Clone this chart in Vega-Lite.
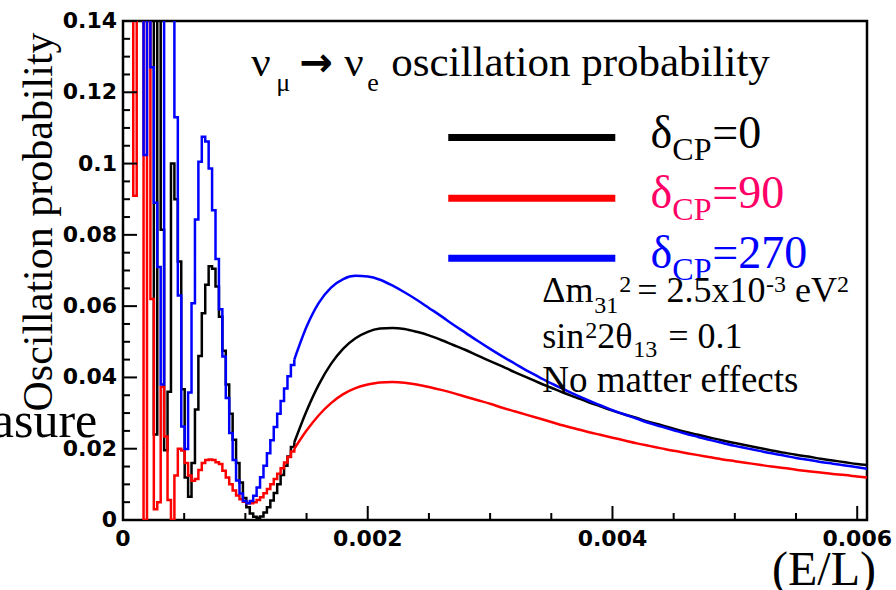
{
  "$schema": "https://vega.github.io/schema/vega-lite/v6.json",
  "width": 744,
  "height": 499,
  "autosize": {"type": "none"},
  "padding": {"left": 123, "top": 21, "right": 29, "bottom": 70},
  "background": "white",
  "config": {
    "view": {"stroke": "black", "strokeWidth": 2.5}
  },
  "data": {"values": [{}]},
  "datasets": {
    "xmaj": [{"t": 0}, {"t": 0.002}, {"t": 0.004}, {"t": 0.006}],
    "xmin": [{"t": 0.0005}, {"t": 0.001}, {"t": 0.0015}, {"t": 0.0025}, {"t": 0.003}, {"t": 0.0035}, {"t": 0.0045}, {"t": 0.005}, {"t": 0.0055}],
    "ymaj": [{"t": 0}, {"t": 0.02}, {"t": 0.04}, {"t": 0.06}, {"t": 0.08}, {"t": 0.1}, {"t": 0.12}, {"t": 0.14}],
    "ymin": [{"t": 0.005}, {"t": 0.01}, {"t": 0.015}, {"t": 0.025}, {"t": 0.03}, {"t": 0.035}, {"t": 0.045}, {"t": 0.05}, {"t": 0.055}, {"t": 0.065}, {"t": 0.07}, {"t": 0.075}, {"t": 0.085}, {"t": 0.09}, {"t": 0.095}, {"t": 0.105}, {"t": 0.11}, {"t": 0.115}, {"t": 0.125}, {"t": 0.13}, {"t": 0.135}],
    "curve": [
      {"x": 0, "b": 0.2, "r": 0.2, "u": 0.2},
      {"x": 0.000028, "b": 0.2, "r": 0.2, "u": 0.2},
      {"x": 0.000056, "b": 0.2, "r": 0.2, "u": 0.2},
      {"x": 0.000084, "b": 0.2, "r": 0.091, "u": 0.2},
      {"x": 0.000112, "b": 0.2, "r": 0.2, "u": 0.2},
      {"x": 0.00014, "b": 0.2, "r": 0.2, "u": 0.2},
      {"x": 0.000168, "b": 0.2, "r": 0, "u": 0.1024},
      {"x": 0.000196, "b": 0.2, "r": 0.2, "u": 0.2},
      {"x": 0.000224, "b": 0.2, "r": 0.062, "u": 0.127},
      {"x": 0.000252, "b": 0.024, "r": 0.003, "u": 0.089},
      {"x": 0.00028, "b": 0.2, "r": 0.005, "u": 0.071},
      {"x": 0.000308, "b": 0.0814, "r": 0.0374, "u": 0.038},
      {"x": 0.000336, "b": 0.0196, "r": 0.0234, "u": 0.2},
      {"x": 0.000364, "b": 0.036, "r": 0.0056, "u": 0.2},
      {"x": 0.000392, "b": 0.1, "r": 0, "u": 0.2},
      {"x": 0.00042, "b": 0.09, "r": 0.0125, "u": 0.113},
      {"x": 0.000448, "b": 0.0725, "r": 0.02, "u": 0.063},
      {"x": 0.000476, "b": 0.0367, "r": 0.0195, "u": 0.0262},
      {"x": 0.000504, "b": 0.0119, "r": 0.016, "u": 0.0199},
      {"x": 0.000532, "b": 0.0065, "r": 0.0125, "u": 0.0358},
      {"x": 0.00056, "b": 0.016, "r": 0.011, "u": 0.0608},
      {"x": 0.000588, "b": 0.031, "r": 0.0115, "u": 0.0843},
      {"x": 0.000616, "b": 0.046, "r": 0.014, "u": 0.1005},
      {"x": 0.000644, "b": 0.058, "r": 0.016, "u": 0.1075},
      {"x": 0.000672, "b": 0.066, "r": 0.0168, "u": 0.1062},
      {"x": 0.0007, "b": 0.0712, "r": 0.017, "u": 0.0986},
      {"x": 0.000728, "b": 0.0705, "r": 0.0168, "u": 0.0869},
      {"x": 0.000756, "b": 0.0655, "r": 0.0162, "u": 0.0732},
      {"x": 0.000784, "b": 0.057, "r": 0.0157, "u": 0.0591},
      {"x": 0.000812, "b": 0.0475, "r": 0.0138, "u": 0.0459},
      {"x": 0.00084, "b": 0.038, "r": 0.0119, "u": 0.0342},
      {"x": 0.000868, "b": 0.0298, "r": 0.01, "u": 0.0244},
      {"x": 0.000896, "b": 0.0225, "r": 0.0083, "u": 0.0168},
      {"x": 0.000924, "b": 0.016, "r": 0.0069, "u": 0.0111},
      {"x": 0.000952, "b": 0.0105, "r": 0.0058, "u": 0.0074},
      {"x": 0.00098, "b": 0.0062, "r": 0.0051, "u": 0.0053},
      {"x": 0.001008, "b": 0.0036, "r": 0.0047, "u": 0.0047},
      {"x": 0.001036, "b": 0.0018, "r": 0.0047, "u": 0.0053},
      {"x": 0.001064, "b": 0.0009, "r": 0.005, "u": 0.0068},
      {"x": 0.001092, "b": 0.0006, "r": 0.0056, "u": 0.0091},
      {"x": 0.00112, "b": 0.001, "r": 0.0064, "u": 0.012},
      {"x": 0.001148, "b": 0.0021, "r": 0.0075, "u": 0.0152},
      {"x": 0.001176, "b": 0.0036, "r": 0.0087, "u": 0.0187},
      {"x": 0.001204, "b": 0.0055, "r": 0.01, "u": 0.0224},
      {"x": 0.001232, "b": 0.0076, "r": 0.0115, "u": 0.0261},
      {"x": 0.00126, "b": 0.01, "r": 0.013, "u": 0.0298},
      {"x": 0.001288, "b": 0.0126, "r": 0.0145, "u": 0.0334},
      {"x": 0.001316, "b": 0.0152, "r": 0.0161, "u": 0.0369},
      {"x": 0.001344, "b": 0.0178, "r": 0.0177, "u": 0.0403},
      {"x": 0.001372, "b": 0.0205, "r": 0.0192, "u": 0.0435},
      {"x": 0.0014, "b": 0.0218, "r": 0.02, "u": 0.045},
      {"x": 0.0015, "b": 0.0306, "r": 0.0251, "u": 0.0542},
      {"x": 0.0016, "b": 0.038, "r": 0.0294, "u": 0.0609},
      {"x": 0.0017, "b": 0.0438, "r": 0.0328, "u": 0.0652},
      {"x": 0.0018, "b": 0.0481, "r": 0.0353, "u": 0.0676},
      {"x": 0.0019, "b": 0.051, "r": 0.037, "u": 0.0685},
      {"x": 0.002, "b": 0.0528, "r": 0.038, "u": 0.0683},
      {"x": 0.0021, "b": 0.0537, "r": 0.0386, "u": 0.0674},
      {"x": 0.0022, "b": 0.0539, "r": 0.0387, "u": 0.0658},
      {"x": 0.0023, "b": 0.0536, "r": 0.0385, "u": 0.0639},
      {"x": 0.0024, "b": 0.0528, "r": 0.038, "u": 0.0618},
      {"x": 0.0025, "b": 0.0518, "r": 0.0373, "u": 0.0595},
      {"x": 0.0026, "b": 0.0505, "r": 0.0365, "u": 0.0572},
      {"x": 0.0027, "b": 0.0491, "r": 0.0356, "u": 0.0548},
      {"x": 0.0028, "b": 0.0477, "r": 0.0346, "u": 0.0525},
      {"x": 0.0029, "b": 0.0461, "r": 0.0336, "u": 0.0502},
      {"x": 0.003, "b": 0.0446, "r": 0.0326, "u": 0.048},
      {"x": 0.0031, "b": 0.0431, "r": 0.0315, "u": 0.0459},
      {"x": 0.0032, "b": 0.0415, "r": 0.0305, "u": 0.0439},
      {"x": 0.0033, "b": 0.04, "r": 0.0295, "u": 0.0419},
      {"x": 0.0034, "b": 0.0385, "r": 0.0285, "u": 0.0401},
      {"x": 0.0035, "b": 0.0371, "r": 0.0275, "u": 0.0383},
      {"x": 0.0036, "b": 0.0357, "r": 0.0265, "u": 0.0367},
      {"x": 0.0037, "b": 0.0344, "r": 0.0256, "u": 0.0351},
      {"x": 0.0038, "b": 0.0331, "r": 0.0247, "u": 0.0336},
      {"x": 0.0039, "b": 0.0319, "r": 0.0239, "u": 0.0322},
      {"x": 0.004, "b": 0.0307, "r": 0.0231, "u": 0.0308},
      {"x": 0.0041, "b": 0.0296, "r": 0.0223, "u": 0.0296},
      {"x": 0.0042, "b": 0.0286, "r": 0.0215, "u": 0.0284},
      {"x": 0.0043, "b": 0.0275, "r": 0.0208, "u": 0.0272},
      {"x": 0.0044, "b": 0.0266, "r": 0.0201, "u": 0.0262},
      {"x": 0.0045, "b": 0.0256, "r": 0.0194, "u": 0.0252},
      {"x": 0.0046, "b": 0.0247, "r": 0.0188, "u": 0.0242},
      {"x": 0.0047, "b": 0.0239, "r": 0.0182, "u": 0.0233},
      {"x": 0.0048, "b": 0.0231, "r": 0.0176, "u": 0.0224},
      {"x": 0.0049, "b": 0.0223, "r": 0.017, "u": 0.0216},
      {"x": 0.005, "b": 0.0216, "r": 0.0165, "u": 0.0208},
      {"x": 0.0051, "b": 0.0209, "r": 0.016, "u": 0.0201},
      {"x": 0.0052, "b": 0.0202, "r": 0.0155, "u": 0.0194},
      {"x": 0.0053, "b": 0.0195, "r": 0.015, "u": 0.0187},
      {"x": 0.0054, "b": 0.0189, "r": 0.0146, "u": 0.0181},
      {"x": 0.0055, "b": 0.0183, "r": 0.0141, "u": 0.0174},
      {"x": 0.0056, "b": 0.0178, "r": 0.0137, "u": 0.0169},
      {"x": 0.0057, "b": 0.0172, "r": 0.0133, "u": 0.0163},
      {"x": 0.0058, "b": 0.0167, "r": 0.0129, "u": 0.0158},
      {"x": 0.0059, "b": 0.0162, "r": 0.0126, "u": 0.0153},
      {"x": 0.006, "b": 0.0157, "r": 0.0122, "u": 0.0148},
      {"x": 0.00608, "b": 0.0154, "r": 0.0119, "u": 0.0144}
    ]
  },
  "layer": [
    {
      "data": {"name": "curve"},
      "transform": [{"filter": "datum.x <= 0.0014"}, {"fold": ["b", "r", "u"], "as": ["series", "p"]}],
      "mark": {"type": "line", "interpolate": "step-after", "clip": true, "strokeWidth": 2.5},
      "encoding": {
        "x": {"field": "x", "type": "quantitative", "scale": {"domain": [0, 0.00608], "nice": false, "zero": false}, "axis": null},
        "y": {"field": "p", "type": "quantitative", "scale": {"domain": [0, 0.14], "nice": false, "zero": false}, "axis": null},
        "color": {"field": "series", "type": "nominal",
                  "scale": {"domain": ["b", "r", "u"], "range": ["#000000", "#ff0000", "#0000ff"]}, "legend": null}
      }
    },
    {
      "data": {"name": "curve"},
      "transform": [{"filter": "datum.x >= 0.0014"}, {"fold": ["b", "r", "u"], "as": ["series", "p"]}],
      "mark": {"type": "line", "interpolate": "monotone", "clip": true, "strokeWidth": 2.5},
      "encoding": {
        "x": {"field": "x", "type": "quantitative", "axis": null},
        "y": {"field": "p", "type": "quantitative", "axis": null},
        "color": {"field": "series", "type": "nominal", "legend": null}
      }
    },
    {"data": {"name": "xmaj"}, "mark": {"type": "rule", "color": "black", "strokeWidth": 2},
     "encoding": {"x": {"field": "t", "type": "quantitative", "axis": null}, "y": {"datum": 0, "type": "quantitative", "axis": null}, "y2": {"datum": 0.00393}}},
    {"data": {"name": "xmin"}, "mark": {"type": "rule", "color": "black", "strokeWidth": 2},
     "encoding": {"x": {"field": "t", "type": "quantitative", "axis": null}, "y": {"datum": 0, "type": "quantitative", "axis": null}, "y2": {"datum": 0.00197}}},
    {"data": {"name": "ymaj"}, "mark": {"type": "rule", "color": "black", "strokeWidth": 2},
     "encoding": {"y": {"field": "t", "type": "quantitative", "axis": null}, "x": {"datum": 0, "type": "quantitative", "axis": null}, "x2": {"datum": 0.0001144}}},
    {"data": {"name": "ymin"}, "mark": {"type": "rule", "color": "black", "strokeWidth": 2},
     "encoding": {"y": {"field": "t", "type": "quantitative", "axis": null}, "x": {"datum": 0, "type": "quantitative", "axis": null}, "x2": {"datum": 0.0000572}}},
    {"data": {"name": "xmaj"}, "mark": {"type": "text", "font": "DejaVu Sans", "fontWeight": "bold", "fontSize": 22, "align": "center", "baseline": "top", "dy": 9, "color": "black"},
     "encoding": {"x": {"field": "t", "type": "quantitative", "axis": null}, "y": {"datum": 0, "type": "quantitative", "axis": null}, "text": {"field": "t", "type": "quantitative", "format": "~g"}}},
    {"data": {"name": "ymaj"}, "mark": {"type": "text", "font": "DejaVu Sans", "fontWeight": "bold", "fontSize": 22, "align": "right", "baseline": "middle", "dx": -6, "color": "black"},
     "encoding": {"y": {"field": "t", "type": "quantitative", "axis": null}, "x": {"datum": 0, "type": "quantitative", "axis": null}, "text": {"field": "t", "type": "quantitative", "format": "~g"}}},
    {"mark": {"type": "text", "text": "Oscillation probability", "font": "Liberation Serif", "fontSize": 42, "angle": 270, "align": "center", "baseline": "alphabetic", "color": "black"},
     "encoding": {"x": {"datum": -0.00058, "type": "quantitative", "axis": null}, "y": {"datum": 0.08361, "type": "quantitative", "axis": null}}},
    {"mark": {"type": "text", "text": "(E/L)", "font": "Liberation Serif", "fontSize": 48, "align": "right", "baseline": "alphabetic", "color": "black"},
     "encoding": {"x": {"datum": 0.0061535, "type": "quantitative", "axis": null}, "y": {"datum": -0.018236, "type": "quantitative", "axis": null}}},
    {"mark": {"type": "rule", "color": "#000000", "strokeWidth": 7},
     "encoding": {"x": {"datum": 0.002658, "type": "quantitative", "axis": null}, "x2": {"datum": 0.004023}, "y": {"datum": 0.10732, "type": "quantitative", "axis": null}}},
    {"mark": {"type": "rule", "color": "#ff0000", "strokeWidth": 7},
     "encoding": {"x": {"datum": 0.002658, "type": "quantitative", "axis": null}, "x2": {"datum": 0.004023}, "y": {"datum": 0.09026, "type": "quantitative", "axis": null}}},
    {"mark": {"type": "rule", "color": "#0000ff", "strokeWidth": 7},
     "encoding": {"x": {"datum": 0.002658, "type": "quantitative", "axis": null}, "x2": {"datum": 0.004023}, "y": {"datum": 0.07342, "type": "quantitative", "axis": null}}},
    {"mark": {"type": "text", "text": "ν", "font": "Liberation Serif", "fontSize": 43, "align": "left", "baseline": "alphabetic", "color": "black"},
     "encoding": {"x": {"datum": 0.0010485, "type": "quantitative", "axis": null}, "y": {"datum": 0.12457, "type": "quantitative", "axis": null}}},
    {"mark": {"type": "text", "text": "μ", "font": "Liberation Serif", "fontSize": 26, "align": "left", "baseline": "alphabetic", "color": "black"},
     "encoding": {"x": {"datum": 0.0012528, "type": "quantitative", "axis": null}, "y": {"datum": 0.12036, "type": "quantitative", "axis": null}}},
    {"mark": {"type": "text", "text": "→", "font": "DejaVu Sans", "fontWeight": "bold", "fontSize": 40, "align": "left", "baseline": "middle", "color": "black"},
     "encoding": {"x": {"datum": 0.0014414, "type": "quantitative", "axis": null}, "y": {"datum": 0.12794, "type": "quantitative", "axis": null}}},
    {"mark": {"type": "text", "text": "ν", "font": "Liberation Serif", "fontSize": 43, "align": "left", "baseline": "alphabetic", "color": "black"},
     "encoding": {"x": {"datum": 0.0018089, "type": "quantitative", "axis": null}, "y": {"datum": 0.12457, "type": "quantitative", "axis": null}}},
    {"mark": {"type": "text", "text": "e", "font": "Liberation Serif", "fontSize": 26, "align": "left", "baseline": "alphabetic", "color": "black"},
     "encoding": {"x": {"datum": 0.0019969, "type": "quantitative", "axis": null}, "y": {"datum": 0.12036, "type": "quantitative", "axis": null}}},
    {"mark": {"type": "text", "text": "oscillation probability", "font": "Liberation Serif", "fontSize": 43, "align": "left", "baseline": "alphabetic", "color": "black"},
     "encoding": {"x": {"datum": 0.0021925, "type": "quantitative", "axis": null}, "y": {"datum": 0.12457, "type": "quantitative", "axis": null}}},
    {"mark": {"type": "text", "text": "δ", "font": "Liberation Serif", "fontSize": 46, "align": "left", "baseline": "alphabetic", "color": "#000000"},
     "encoding": {"x": {"datum": 0.00431, "type": "quantitative", "axis": null}, "y": {"datum": 0.10437, "type": "quantitative", "axis": null}}},
    {"mark": {"type": "text", "text": "CP", "font": "Liberation Serif", "fontSize": 32, "align": "left", "baseline": "alphabetic", "color": "#000000"},
     "encoding": {"x": {"datum": 0.004489, "type": "quantitative", "axis": null}, "y": {"datum": 0.101, "type": "quantitative", "axis": null}}},
    {"mark": {"type": "text", "text": "=0", "font": "Liberation Serif", "fontSize": 46, "align": "left", "baseline": "alphabetic", "color": "#000000"},
     "encoding": {"x": {"datum": 0.004816, "type": "quantitative", "axis": null}, "y": {"datum": 0.10437, "type": "quantitative", "axis": null}}},
    {"mark": {"type": "text", "text": "δ", "font": "Liberation Serif", "fontSize": 46, "align": "left", "baseline": "alphabetic", "color": "#ff0066"},
     "encoding": {"x": {"datum": 0.00431, "type": "quantitative", "axis": null}, "y": {"datum": 0.08753, "type": "quantitative", "axis": null}}},
    {"mark": {"type": "text", "text": "CP", "font": "Liberation Serif", "fontSize": 32, "align": "left", "baseline": "alphabetic", "color": "#ff0066"},
     "encoding": {"x": {"datum": 0.004489, "type": "quantitative", "axis": null}, "y": {"datum": 0.08417, "type": "quantitative", "axis": null}}},
    {"mark": {"type": "text", "text": "=90", "font": "Liberation Serif", "fontSize": 46, "align": "left", "baseline": "alphabetic", "color": "#ff0066"},
     "encoding": {"x": {"datum": 0.004816, "type": "quantitative", "axis": null}, "y": {"datum": 0.08753, "type": "quantitative", "axis": null}}},
    {"mark": {"type": "text", "text": "δ", "font": "Liberation Serif", "fontSize": 46, "align": "left", "baseline": "alphabetic", "color": "#0000ff"},
     "encoding": {"x": {"datum": 0.00431, "type": "quantitative", "axis": null}, "y": {"datum": 0.0707, "type": "quantitative", "axis": null}}},
    {"mark": {"type": "text", "text": "CP", "font": "Liberation Serif", "fontSize": 32, "align": "left", "baseline": "alphabetic", "color": "#0000ff"},
     "encoding": {"x": {"datum": 0.004489, "type": "quantitative", "axis": null}, "y": {"datum": 0.06733, "type": "quantitative", "axis": null}}},
    {"mark": {"type": "text", "text": "=270", "font": "Liberation Serif", "fontSize": 46, "align": "left", "baseline": "alphabetic", "color": "#0000ff"},
     "encoding": {"x": {"datum": 0.004816, "type": "quantitative", "axis": null}, "y": {"datum": 0.0707, "type": "quantitative", "axis": null}}},
    {"mark": {"type": "text", "text": "Δm", "font": "Liberation Serif", "fontSize": 36, "align": "left", "baseline": "alphabetic", "color": "black"},
     "encoding": {"x": {"datum": 0.0034265, "type": "quantitative", "axis": null}, "y": {"datum": 0.061246, "type": "quantitative", "axis": null}}},
    {"mark": {"type": "text", "text": "31", "font": "Liberation Serif", "fontSize": 24, "align": "left", "baseline": "alphabetic", "color": "black"},
     "encoding": {"x": {"datum": 0.0038513, "type": "quantitative", "axis": null}, "y": {"datum": 0.058076, "type": "quantitative", "axis": null}}},
    {"mark": {"type": "text", "text": "2", "font": "Liberation Serif", "fontSize": 24, "align": "left", "baseline": "alphabetic", "color": "black"},
     "encoding": {"x": {"datum": 0.0040556, "type": "quantitative", "axis": null}, "y": {"datum": 0.063969, "type": "quantitative", "axis": null}}},
    {"mark": {"type": "text", "text": "= 2.5x10", "font": "Liberation Serif", "fontSize": 36, "align": "left", "baseline": "alphabetic", "color": "black"},
     "encoding": {"x": {"datum": 0.0042027, "type": "quantitative", "axis": null}, "y": {"datum": 0.061246, "type": "quantitative", "axis": null}}},
    {"mark": {"type": "text", "text": "-3", "font": "Liberation Serif", "fontSize": 24, "align": "left", "baseline": "alphabetic", "color": "black"},
     "encoding": {"x": {"datum": 0.0052553, "type": "quantitative", "axis": null}, "y": {"datum": 0.063969, "type": "quantitative", "axis": null}}},
    {"mark": {"type": "text", "text": "eV", "font": "Liberation Serif", "fontSize": 36, "align": "left", "baseline": "alphabetic", "color": "black"},
     "encoding": {"x": {"datum": 0.0054924, "type": "quantitative", "axis": null}, "y": {"datum": 0.061246, "type": "quantitative", "axis": null}}},
    {"mark": {"type": "text", "text": "2", "font": "Liberation Serif", "fontSize": 24, "align": "left", "baseline": "alphabetic", "color": "black"},
     "encoding": {"x": {"datum": 0.0058358, "type": "quantitative", "axis": null}, "y": {"datum": 0.063969, "type": "quantitative", "axis": null}}},
    {"mark": {"type": "text", "text": "sin", "font": "Liberation Serif", "fontSize": 36, "align": "left", "baseline": "alphabetic", "color": "black"},
     "encoding": {"x": {"datum": 0.0034265, "type": "quantitative", "axis": null}, "y": {"datum": 0.04834, "type": "quantitative", "axis": null}}},
    {"mark": {"type": "text", "text": "2", "font": "Liberation Serif", "fontSize": 24, "align": "left", "baseline": "alphabetic", "color": "black"},
     "encoding": {"x": {"datum": 0.0037778, "type": "quantitative", "axis": null}, "y": {"datum": 0.051062, "type": "quantitative", "axis": null}}},
    {"mark": {"type": "text", "text": "2θ", "font": "Liberation Serif", "fontSize": 36, "align": "left", "baseline": "alphabetic", "color": "black"},
     "encoding": {"x": {"datum": 0.0038759, "type": "quantitative", "axis": null}, "y": {"datum": 0.04834, "type": "quantitative", "axis": null}}},
    {"mark": {"type": "text", "text": "13", "font": "Liberation Serif", "fontSize": 24, "align": "left", "baseline": "alphabetic", "color": "black"},
     "encoding": {"x": {"datum": 0.00417, "type": "quantitative", "axis": null}, "y": {"datum": 0.045731, "type": "quantitative", "axis": null}}},
    {"mark": {"type": "text", "text": "= 0.1", "font": "Liberation Serif", "fontSize": 36, "align": "left", "baseline": "alphabetic", "color": "black"},
     "encoding": {"x": {"datum": 0.004456, "type": "quantitative", "axis": null}, "y": {"datum": 0.04834, "type": "quantitative", "axis": null}}},
    {"mark": {"type": "text", "text": "No matter effects", "font": "Liberation Serif", "fontSize": 37, "align": "left", "baseline": "alphabetic", "color": "black"},
     "encoding": {"x": {"datum": 0.0034265, "type": "quantitative", "axis": null}, "y": {"datum": 0.035996, "type": "quantitative", "axis": null}}},
    {"mark": {"type": "text", "text": "Measure", "font": "Liberation Serif", "fontSize": 50, "align": "right", "baseline": "alphabetic", "color": "black"},
     "encoding": {"x": {"datum": -0.00021, "type": "quantitative", "axis": null}, "y": {"datum": 0.02329, "type": "quantitative", "axis": null}}}
  ]
}
